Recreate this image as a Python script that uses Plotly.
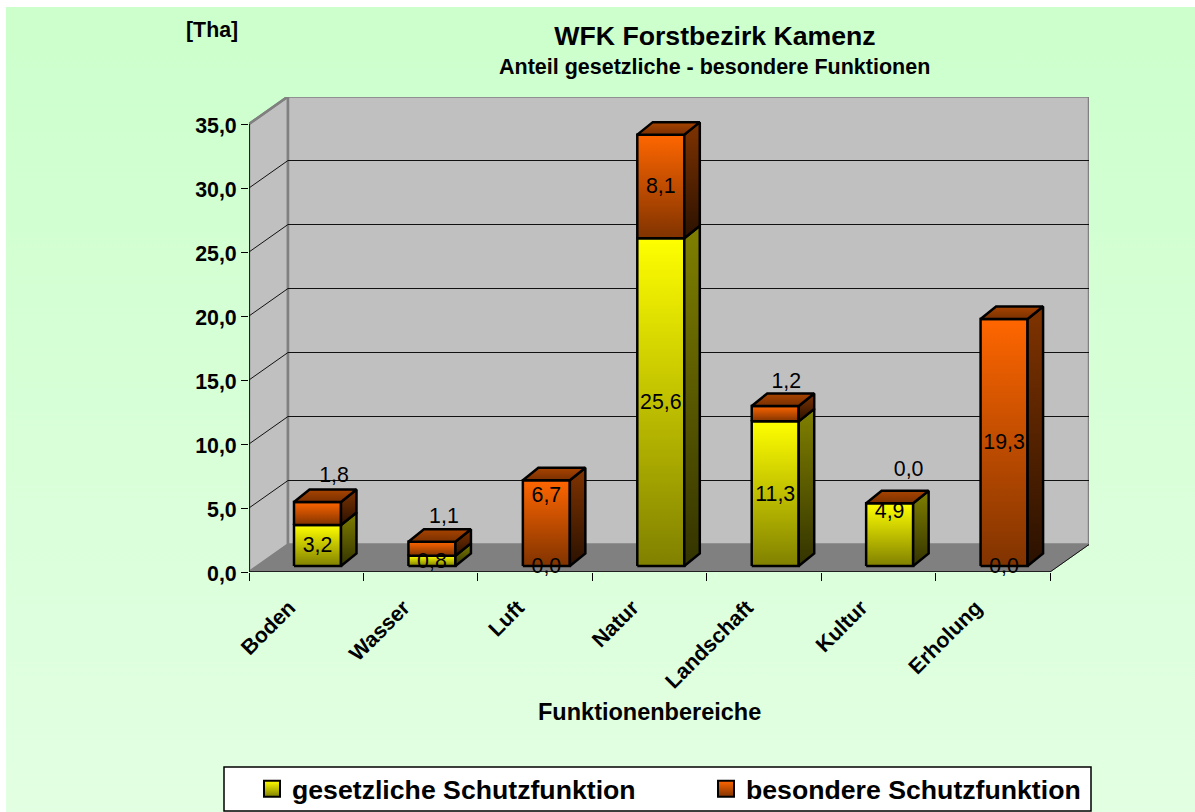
import plotly.graph_objects as go

categories = ["Boden", "Wasser", "Luft", "Natur", "Landschaft", "Kultur", "Erholung"]
gesetzlich = [3.2, 0.8, 0.0, 25.6, 11.3, 4.9, 0.0]
besondere = [1.8, 1.1, 6.7, 8.1, 1.2, 0.0, 19.3]
series_names = ["gesetzliche Schutzfunktion", "besondere Schutzfunktion"]
y_ticks = [0, 5, 10, 15, 20, 25, 30, 35]

W, VH, H = 1195, 812, 826             # window; figure is a little taller so the legend can sit low
L, R, T, B = 249, 1089, 97, 572       # plot frame in pixels (front left .. back right)
PXC = 114.43                          # pixels per category
PXV = 12.8                            # pixels per value unit
WX, WY = 39 / PXC, 27.5 / PXV         # depth of the walls
BX, BW = 45 / PXC, 47 / PXC           # bar left offset, width
DX, DY = 15.5 / PXC, 12.5 / PXV       # depth of the bars
LIFT = 6 / PXV                        # bar base above front edge
N = len(categories)
VMAX = 35

YEL = dict(front=("#FFFF00", "#808000"), side=("#808000", "#333300"))
ORA = dict(front=("#FF6600", "#803300"), side=("#803300", "#2A1100"), top=("#A84400", "#7A3000"))

fig = go.Figure()

# page background on a full-size subplot
fig.add_trace(go.Scatter(x=[0, 1, 1, 0, 0], y=[0, 0, 1, 1, 0], mode="lines", line=dict(width=0),
                         fill="toself", showlegend=False, hoverinfo="skip", xaxis="x", yaxis="y",
                         fillgradient=dict(type="vertical", start=0, stop=1,
                                           colorscale=[[0, "#E3FFE3"], [1, "#CCFFCC"]])))


def poly(xs, ys, fill=None, grad=None, line_color="black", lw=2.5):
    kw = dict(x=list(xs) + [xs[0]], y=list(ys) + [ys[0]], mode="lines", fill="toself",
              line=dict(color=line_color, width=lw), showlegend=False, hoverinfo="skip",
              xaxis="x2", yaxis="y2")
    if grad:
        kw["fillgradient"] = dict(type="vertical", start=min(ys), stop=max(ys),
                                  colorscale=[[0, grad[1]], [1, grad[0]]])
    else:
        kw["fillcolor"] = fill
    fig.add_trace(go.Scatter(**kw))


def seg(xs, ys, color, lw=1):
    fig.add_trace(go.Scatter(x=xs, y=ys, mode="lines", line=dict(color=color, width=lw),
                             showlegend=False, hoverinfo="skip", xaxis="x2", yaxis="y2"))


# walls and floor
poly([0, WX, WX, 0], [0, WY, VMAX + WY, VMAX], fill="#C0C0C0", line_color="#808080", lw=2.5)
poly([WX, N + WX, N + WX, WX], [WY, WY, VMAX + WY, VMAX + WY], fill="#C0C0C0", line_color="#808080", lw=2.5)
poly([0, N, N + WX, WX], [0, 0, WY, WY], fill="#808080", line_color="#808080", lw=1)
for v in y_ticks[1:-1]:
    seg([0, WX, N + WX], [v, v + WY, v + WY], "#111111", 1)
seg([0, WX], [VMAX, VMAX + WY], "#808080", 2.5)
seg([N, N + WX], [0, WY], "#111111", 1)
seg([0, 0], [0, VMAX], "black", 1.5)
seg([0, N], [0, 0], "black", 1.5)

# bars
label_x, label_y, label_t = [], [], []
# pixel nudges of the labels that the source chart moved off their segment centre
nudges = {(0, 1): (16.5, -38.5), (1, 1): (12, -33), (2, 1): (0, -28), (4, 1): (11, -33),
          (5, 0): (0, -23), (5, 1): (19, -34)}
for i in range(N):
    x0 = i + BX
    x1 = x0 + BW
    base = LIFT
    for s, (vals, col) in enumerate(((gesetzlich, YEL), (besondere, ORA))):
        v = vals[i]
        top = base + v
        if v > 0:
            poly([x0, x1, x1, x0], [base, base, top, top], grad=col["front"])
            poly([x1, x1 + DX, x1 + DX, x1], [base, base + DY, top + DY, top], grad=col["side"])
        if s == 1:
            poly([x0, x1, x1 + DX, x0 + DX], [top, top, top + DY, top + DY], grad=col["top"])
        nx, ny = nudges.get((i, s), (0, 0))
        label_x.append((x0 + x1) / 2 + nx / PXC)
        label_y.append((base + top) / 2 - (ny + 1.5) / PXV)
        label_t.append(f"{v:.1f}".replace(".", ","))
        base = top

fig.add_trace(go.Scatter(x=label_x, y=label_y, text=label_t, mode="text", textposition="middle center",
                         textfont=dict(family="Liberation Sans", size=21.33, color="black"),
                         showlegend=False, hoverinfo="skip", cliponaxis=False, xaxis="x2", yaxis="y2"))

# legend entries
for name, c, lw_ in zip(series_names, (YEL, ORA), (381, 339)):
    fig.add_trace(go.Scatter(x=[None], y=[None], mode="markers", name=name, xaxis="x2", yaxis="y2",
                             legendwidth=lw_,
                             marker=dict(symbol="square", size=16, color=c["front"][0],
                                         gradient=dict(type="vertical", color=c["front"][1]),
                                         line=dict(color="black", width=2))))

axfont = dict(family="Liberation Sans", size=21.33, color="black", weight="bold")
fig.update_layout(
    width=W, height=H, margin=dict(l=0, r=0, t=0, b=0, autoexpand=False), autosize=False,
    paper_bgcolor="white", plot_bgcolor="rgba(0,0,0,0)", separators=", ",
    font=dict(family="Liberation Sans", color="black"),
    xaxis=dict(domain=[6 / W, 1], range=[0, 1], visible=False, fixedrange=True),
    yaxis=dict(domain=[0, 1 - 7 / H], range=[0, 1], visible=False, fixedrange=True),
    xaxis2=dict(domain=[L / W, R / W], range=[0, (R - L) / PXC], anchor="y2", showgrid=False, zeroline=False,
                tickmode="array", tickvals=[i + 0.5 for i in range(N)], ticktext=categories,
                ticks="", tickangle=-45, tickfont=axfont, ticklabelstandoff=18, ticklabelshift=-17,
                minor=dict(tickmode="array", tickvals=list(range(N + 1)), ticks="outside", ticklen=8,
                           tickcolor="black", tickwidth=1, showgrid=False)),
    yaxis2=dict(domain=[1 - B / H, 1 - T / H], range=[0, (B - T) / PXV], anchor="x2", showgrid=False, zeroline=False,
                tickmode="array", tickvals=y_ticks, tickformat=".1f", ticks="outside", ticklen=7,
                tickcolor="black", tickwidth=1, tickfont=axfont, ticklabelshift=2),
    title=dict(text="<b>WFK Forstbezirk Kamenz</b>", font=dict(family="Liberation Sans", size=26.67),
               x=715 / W, xanchor="center", y=1 - 36 / H, yanchor="middle", xref="paper", yref="paper"),
    showlegend=True,
    legend=dict(orientation="h", x=224 / W, xanchor="left", y=1 - 789 / H, yanchor="middle",
                bgcolor="rgba(0,0,0,0)", borderwidth=0,
                font=dict(family="Liberation Sans", size=26.67, color="black", weight="bold"),
                itemwidth=30, indentation=28),
    shapes=[dict(type="rect", xref="paper", yref="paper", layer="above",
                 x0=224 / W, x1=1091 / W, y0=1 - 811 / H, y1=1 - 767 / H,
                 fillcolor="white", line=dict(color="black", width=1.5))],
    annotations=[
        dict(text="<b>Anteil gesetzliche - besondere Funktionen</b>", x=715 / W, y=1 - 67 / H, xref="paper", yref="paper",
             showarrow=False, font=dict(size=21.5), xanchor="center", yanchor="middle"),
        dict(text="<b>[Tha]</b>", x=212 / W, y=1 - 30 / H, xref="paper", yref="paper",
             showarrow=False, font=dict(size=21.33), xanchor="center", yanchor="middle"),
        dict(text="<b>Funktionenbereiche</b>", x=649.5 / W, y=1 - 712 / H, xref="paper", yref="paper",
             showarrow=False, font=dict(size=23.5), xanchor="center", yanchor="middle"),
    ],
)
fig.write_html("out.html", config={"displayModeBar": False},
               post_script="document.body.style.margin='0';document.body.style.overflow='hidden';document.documentElement.style.overflow='hidden';")
